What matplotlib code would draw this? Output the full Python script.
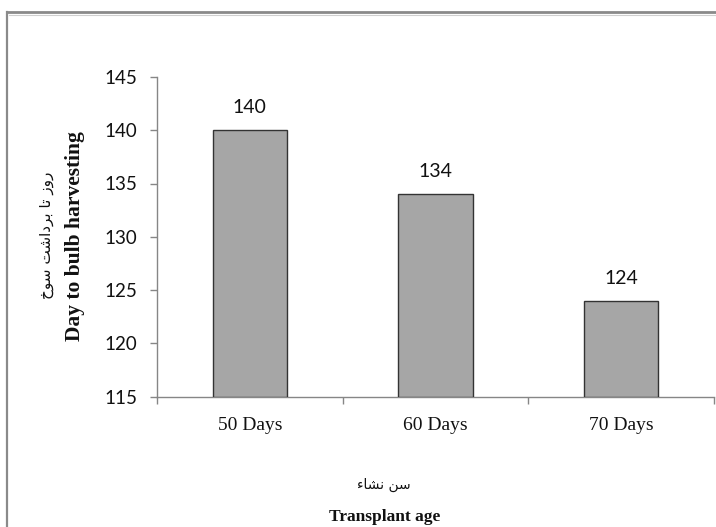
import matplotlib
matplotlib.use("Agg")
import matplotlib.pyplot as plt
from matplotlib.lines import Line2D

# Data
categories = ["50 Days", "60 Days", "70 Days"]
values = [140, 134, 124]
y_ticks = [115, 120, 125, 130, 135, 140, 145]

# Persian labels, pre-shaped into presentation forms and stored in visual order
fa_ylabel = "\uFEAD\uFEED\uFEAF \uFE97\uFE8E \uFE91\uFEAE\uFEA9\uFE8D\uFEB7\uFE96 \uFEB3\uFEEE\uFEA5"[::-1]
fa_xlabel = "\uFEB3\uFEE6 \uFEE7\uFEB8\uFE8E\uFE80"[::-1]
en_ylabel = "Day to bulb harvesting"
en_xlabel = "Transplant age"

W, H, DPI = 716, 527, 100
fig = plt.figure(figsize=(W / DPI, H / DPI), dpi=DPI, facecolor="white")

# Axes placement in pixels
left, right, top, bottom = 157, 714, 77, 396.5
ax = fig.add_axes([left / W, 1 - bottom / H, (right - left) / W, (bottom - top) / H])

axis_grey = "#868686"
x = list(range(len(categories)))
ax.bar(x, [v - y_ticks[0] for v in values], bottom=y_ticks[0], width=0.40,
       color="#a6a6a6", edgecolor="#333333", linewidth=1.0, zorder=3)

for xi, v in zip(x, values):
    ax.annotate(str(v), (xi, v), xytext=(0, 10), textcoords="offset points",
                ha="center", va="bottom", fontsize=14, family="Lato", color="#111111")

ax.set_xlim(-0.5, len(categories) - 0.5)
ax.set_ylim(y_ticks[0], y_ticks[-1])
ax.set_yticks(y_ticks)
ax.set_xticks(x)
ax.set_xticklabels(categories, family="Liberation Serif", fontsize=14)
ax.set_xticks([-0.5, 0.5, 1.5, 2.5], minor=True)

for s in ["top", "right"]:
    ax.spines[s].set_visible(False)
for s in ["left", "bottom"]:
    ax.spines[s].set_color(axis_grey)
    ax.spines[s].set_linewidth(1.0)

ax.tick_params(axis="y", direction="out", length=5, width=1, color=axis_grey,
               pad=9, labelsize=13.5, labelcolor="#111111")
for lab in ax.get_yticklabels():
    lab.set_family("Lato")
ax.tick_params(axis="x", which="major", length=0, pad=15, labelcolor="#111111")
ax.tick_params(axis="x", which="minor", direction="out", length=5, width=1, color=axis_grey)

# Axis titles
fig.text(47 / W, 1 - 235 / H, fa_ylabel, rotation=90, ha="center", va="center",
         family="DejaVu Sans", fontsize=11, color="#111111")
fig.text(75 / W, 1 - 236 / H, en_ylabel, rotation=90, ha="center", va="center",
         family="Liberation Serif", fontsize=15.5, fontweight="bold", color="#111111")
fig.text(384 / W, 1 - 485 / H, fa_xlabel, ha="center", va="center",
         family="DejaVu Sans", fontsize=10, color="#111111")
fig.text(385 / W, 1 - 517 / H, en_xlabel, ha="center", va="center",
         family="Liberation Serif", fontsize=12.5, fontweight="bold", color="#111111")

# Chart frame (top and left edges)
fig.add_artist(Line2D([7.5 / W, 7.5 / W], [0, 1 - 12 / H], transform=fig.transFigure,
                      color="#8a8a8a", linewidth=1.6))
fig.add_artist(Line2D([7 / W, 1], [1 - 12 / H, 1 - 12 / H], transform=fig.transFigure,
                      color="#8a8a8a", linewidth=2.0))
fig.add_artist(Line2D([9 / W, 1], [1 - 14.5 / H, 1 - 14.5 / H], transform=fig.transFigure,
                      color="#cfcfcf", linewidth=0.8))

fig.savefig("out.png", dpi=DPI, facecolor="white")
